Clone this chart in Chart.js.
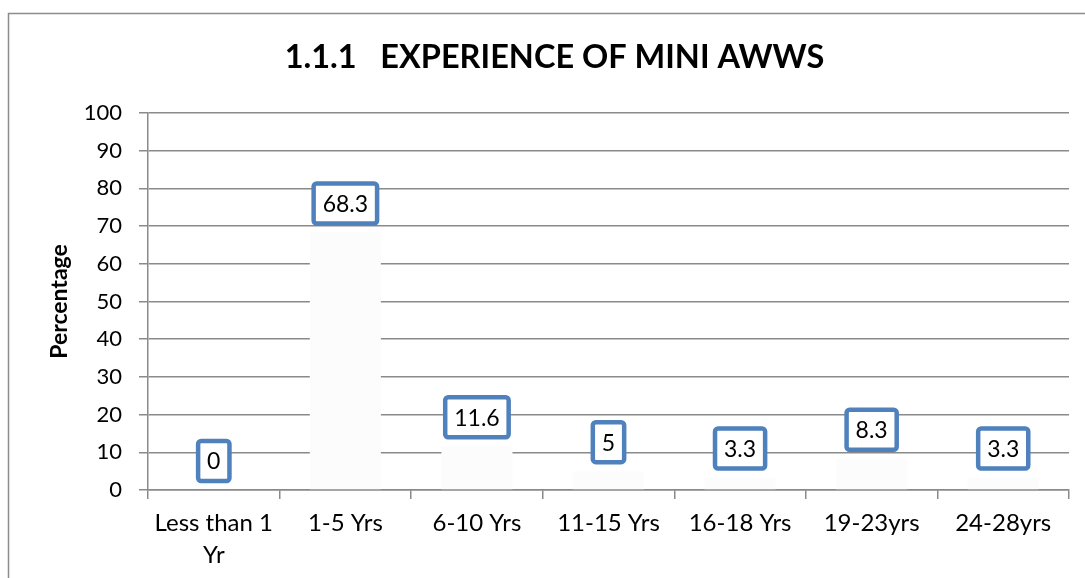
<!DOCTYPE html>
<html>
<head>
<meta charset="utf-8">
<script src="https://cdn.jsdelivr.net/npm/chart.js@4.4.0/dist/chart.umd.min.js"></script>
<style>
  html,body{margin:0;padding:0;background:#fff;overflow:hidden;}
  #wrap{width:1085px;height:578px;position:relative;}
</style>
</head>
<body>
<div id="wrap"><canvas id="expChart" width="1085" height="578"></canvas></div>
<script>
// data
const categories = [['Less than 1','Yr'], '1-5 Yrs', '6-10 Yrs', '11-15 Yrs', '16-18 Yrs', '19-23yrs', '24-28yrs'];
const percentages = [0, 68.3, 11.6, 5, 3.3, 8.3, 3.3];
const yTicks = [0, 10, 20, 30, 40, 50, 60, 70, 80, 90, 100];

const FONT = 'Lato, "Open Sans", sans-serif';
const gridGrey = '#8a8a8a';

// outer frame of the chart (runs off the right / bottom edge)
const framePlugin = {
  id: 'frame',
  beforeDraw(chart){
    const ctx = chart.ctx;
    ctx.save();
    ctx.strokeStyle = '#8c8c8c';
    ctx.lineWidth = 1.5;
    ctx.strokeRect(8.5, 13.5, 2000, 2000);
    ctx.restore();
  }
};

// boxed value labels above each bar
const boxLabels = {
  id: 'boxLabels',
  afterDatasetsDraw(chart){
    const ctx = chart.ctx;
    const meta = chart.getDatasetMeta(0);
    ctx.save();
    ctx.font = '23px ' + FONT;
    ctx.textAlign = 'center';
    ctx.textBaseline = 'middle';
    meta.data.forEach((bar, i) => {
      const txt = String(percentages[i]);
      const w = ctx.measureText(txt).width + 18;
      const h = 40;
      const cx = bar.x, cy = bar.y - 29;
      ctx.beginPath();
      ctx.roundRect(cx - w/2, cy - h/2, w, h, 3);
      ctx.fillStyle = '#fff';
      ctx.fill();
      ctx.lineWidth = 4.5;
      ctx.strokeStyle = '#4f81bd';
      ctx.stroke();
      ctx.fillStyle = '#000';
      ctx.fillText(txt, cx, cy + 1);
    });
    ctx.restore();
  }
};

new Chart(document.getElementById('expChart'), {
  type: 'bar',
  data: {
    labels: categories,
    datasets: [{
      data: percentages,
      backgroundColor: '#fcfcfc',
      borderWidth: 0,
      categoryPercentage: 1,
      barPercentage: 0.54
    }]
  },
  options: {
    responsive: false,
    animation: false,
    layout: { padding: { left: 40, right: 16, top: 20, bottom: 0 } },
    plugins: {
      legend: { display: false },
      tooltip: { enabled: false },
      title: {
        display: true,
        text: '1.1.1   EXPERIENCE OF MINI AWWS',
        color: '#000',
        font: { family: FONT, size: 32.5, weight: 'bold' },
        padding: { top: 18, bottom: 36 }
      }
    },
    scales: {
      x: {
        grid: { display: true, drawOnChartArea: false, drawTicks: true, tickLength: 9, color: gridGrey, lineWidth: 1.5, offset: true },
        border: { color: gridGrey, width: 1.5 },
        ticks: { color: '#000', font: { family: FONT, size: 24, lineHeight: 1.35 }, padding: 8, maxRotation: 0, autoSkip: false },
        afterFit(scale){ scale.height = 88; }
      },
      y: {
        min: 0, max: 100,
        afterBuildTicks(scale){ scale.ticks = yTicks.map(v => ({ value: v })); },
        grid: { color: gridGrey, lineWidth: 1.5, tickLength: 9 },
        border: { color: gridGrey, width: 1.5 },
        ticks: { color: '#000', font: { family: FONT, size: 22 }, padding: 17 },
        title: { display: true, text: 'Percentage', color: '#000', font: { family: FONT, size: 23, weight: 'bold' }, padding: { top: 6, bottom: 0 } },
        afterFit(scale){ scale.width = 108; }
      }
    }
  },
  plugins: [framePlugin, boxLabels]
});
</script>
</body>
</html>
